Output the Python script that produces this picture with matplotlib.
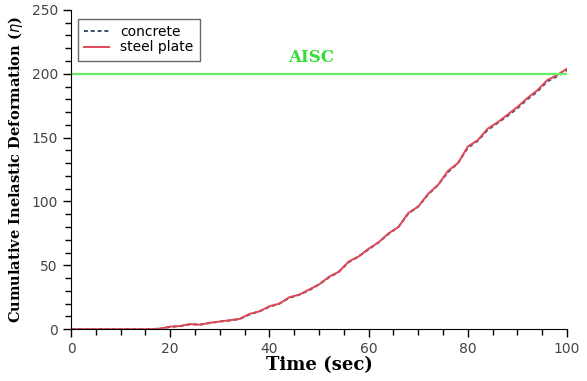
import numpy as np
import matplotlib
matplotlib.use('Agg')
import matplotlib.pyplot as plt
from matplotlib.ticker import MultipleLocator

# Tiempo (s) y deformación inelástica acumulada
time = [0, 2, 4, 6, 8, 10, 12, 14, 16, 18, 20, 22, 24, 26, 28, 30, 32, 34, 36, 38,
        40, 42, 44, 46, 48, 50, 52, 54, 56, 58, 60, 62, 64, 66, 68, 70, 72, 74, 76, 78,
        80, 82, 84, 86, 88, 90, 92, 94, 96, 98, 100]
steel_plate = [0, 0, 0, 0, 0, 0, 0, 0, 0, 0.5, 2, 2.5, 4, 3.5, 5, 6, 7, 8, 12, 14,
               18, 20, 25, 27, 31, 35, 41, 45, 53, 57, 63, 68, 75, 80, 91, 96, 106, 113, 124, 130,
               143, 148, 157, 162, 168, 174, 181, 187, 195, 199, 204]
concrete = [0, 0, 0, 0, 0, 0, 0, 0, 0, 0.4, 1.8, 2.4, 3.8, 3.6, 4.8, 6, 6.8, 8, 11.5, 14,
            17.5, 20, 24.5, 27, 30.5, 35, 40.5, 45, 52.5, 57, 62.5, 68, 74.5, 80, 90.5, 96, 105.5, 113, 123, 130,
            142, 147.5, 156, 161.5, 167, 173, 180, 186, 194, 198, 203]
aisc_limit = 200

fig = plt.figure(figsize=(5.87, 3.81), dpi=100)
ax = fig.add_axes([0.121, 0.136, 0.845, 0.838])

ax.plot(time, concrete, color='#3a4a6a', linestyle=(0, (2, 1.5)), linewidth=1.4, label='concrete')
ax.plot(time, steel_plate, color='#e04858', linewidth=1.4, label='steel plate')
ax.plot([0, 100], [aisc_limit, aisc_limit], color='#66ee66', linewidth=1.6)
ax.text(48.4, 213, 'AISC', color='#33dd33', fontsize=12, fontweight='bold',
        family='DejaVu Serif', ha='center', va='center')

ax.set_xlim(0, 100)
ax.set_ylim(0, 250)
ax.xaxis.set_major_locator(MultipleLocator(20))
ax.xaxis.set_minor_locator(MultipleLocator(5))
ax.yaxis.set_major_locator(MultipleLocator(50))
ax.yaxis.set_minor_locator(MultipleLocator(10))
ax.tick_params(which='major', length=6, width=1, labelsize=10, labelcolor='#444444')
ax.tick_params(which='minor', length=4, width=1)
for s in ['top', 'right']:
    ax.spines[s].set_visible(False)

ax.set_xlabel('Time (sec)', fontsize=13, fontweight='bold', family='DejaVu Serif', labelpad=0)
ax.set_ylabel('Cumulative Inelastic Deformation ($\\eta$)', fontsize=10.5, fontweight='bold',
              family='DejaVu Serif', labelpad=5)

leg = ax.legend(loc='upper left', bbox_to_anchor=(0.014, 0.972), borderaxespad=0, fontsize=10,
                frameon=True, fancybox=False, edgecolor='#444444', handlelength=1.8,
                borderpad=0.45, labelspacing=0.1)
leg.get_frame().set_linewidth(1)

fig.savefig('out.png', dpi=100)
